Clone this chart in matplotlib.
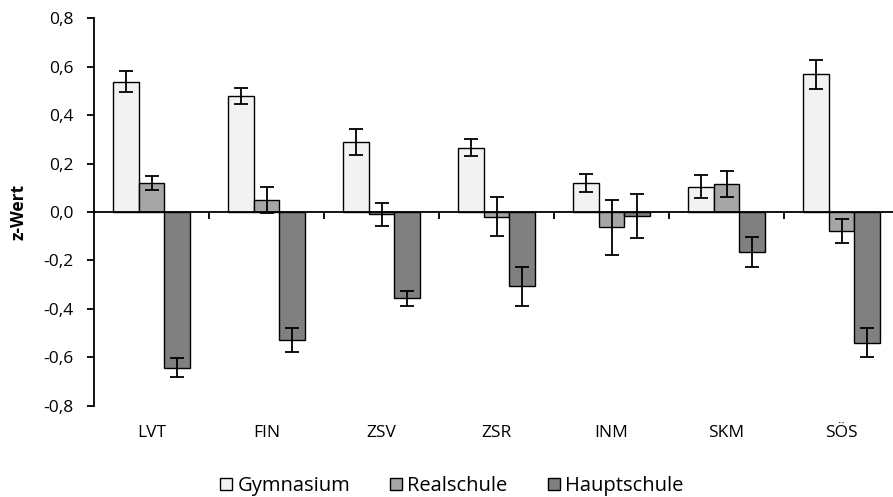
import matplotlib
matplotlib.use("Agg")
import matplotlib.pyplot as plt
import numpy as np
from matplotlib.ticker import FixedLocator, FuncFormatter

plt.rcParams["font.family"] = ["Open Sans", "DejaVu Sans"]

categories = ["LVT", "FIN", "ZSV", "ZSR", "INM", "SKM", "SÖS"]
series = ["Gymnasium", "Realschule", "Hauptschule"]

gymnasium = [0.538, 0.481, 0.289, 0.266, 0.121, 0.105, 0.569]
gymnasium_err = [0.044, 0.033, 0.054, 0.034, 0.037, 0.048, 0.059]
realschule = [0.119, 0.048, -0.010, -0.019, -0.063, 0.116, -0.079]
realschule_err = [0.028, 0.054, 0.048, 0.082, 0.113, 0.054, 0.048]
hauptschule = [-0.643, -0.529, -0.357, -0.307, -0.017, -0.165, -0.541]
hauptschule_err = [0.039, 0.049, 0.031, 0.080, 0.092, 0.063, 0.060]
yticks = [-0.8, -0.6, -0.4, -0.2, 0.0, 0.2, 0.4, 0.6, 0.8]

values = [gymnasium, realschule, hauptschule]
errors = [gymnasium_err, realschule_err, hauptschule_err]
colors = ["#F2F2F2", "#A6A6A6", "#808080"]


def de_fmt(v, pos):
    if abs(v) < 1e-9:
        v = 0.0
    return f"{v:.1f}".replace(".", ",")


fig = plt.figure(figsize=(8.93, 4.97), dpi=100)
ax = fig.add_axes([94 / 893, 0.1839, 805 / 893, 0.7791])

x = np.arange(len(categories))
width = 0.226
bars = []
for i, (vals, errs, col, name) in enumerate(zip(values, errors, colors, series)):
    pos = x + (i - 1) * width
    b = ax.bar(pos, vals, width, color=col, edgecolor="black", linewidth=1.0,
               label=name, zorder=2)
    bars.append(b)
    ax.errorbar(pos, vals, yerr=errs, fmt="none", ecolor="black",
                elinewidth=1.3, capsize=5, capthick=1.3, zorder=3)

ax.set_xlim(-0.5, len(categories) - 0.5)
ax.set_ylim(-0.8, 0.8)
ax.yaxis.set_major_locator(FixedLocator(yticks))
ax.yaxis.set_major_formatter(FuncFormatter(de_fmt))

for s in ["top", "right"]:
    ax.spines[s].set_visible(False)
ax.spines["bottom"].set_position(("data", 0))
ax.spines["bottom"].set_zorder(4)
ax.spines["bottom"].set_linewidth(1.3)
ax.spines["left"].set_linewidth(1.3)

ax.set_xticks(x + 0.5)
ax.set_xticklabels([])
ax.tick_params(axis="x", direction="out", length=5, width=1.3)
ax.tick_params(axis="y", direction="out", length=5, width=1.3, pad=10, labelsize=12.5)

trans = ax.get_xaxis_transform()
for xi, cat in zip(x, categories):
    ax.text(xi, -0.07, cat, transform=trans, ha="center", va="center", fontsize=12.5)

fig.text(19 / 893, 1 - 212 / 497, "z-Wert", rotation=90, ha="center", va="center",
         fontsize=12.5, fontweight="bold")

fig.legend(handles=bars, labels=series, ncol=3, loc="center",
           bbox_to_anchor=(0.506, 0.022), frameon=False, fontsize=14.5,
           handlelength=0.6, handleheight=0.6, handletextpad=0.25, columnspacing=2.0,
           borderpad=0.1)

fig.savefig("out.png", dpi=100)
